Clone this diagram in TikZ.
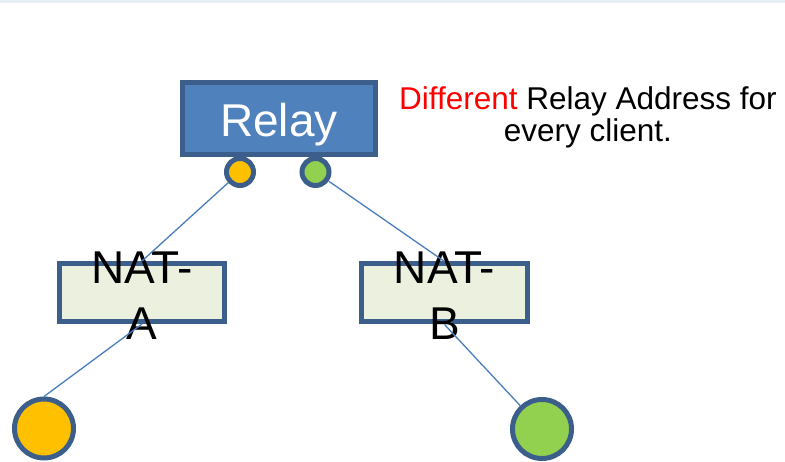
\documentclass[tikz,border=0pt]{standalone}
\usepackage{fontspec}
\setmainfont{Liberation Sans}
\definecolor{topband}{HTML}{E6F0F4}
\definecolor{relayfill}{HTML}{4F81BD}
\definecolor{edgeblue}{HTML}{3B5F8A}
\definecolor{natfill}{HTML}{EBF1DE}
\definecolor{orangec}{HTML}{FFC000}
\definecolor{greenc}{HTML}{92D050}
\definecolor{wireblue}{HTML}{4A7EBB}
\definecolor{diffred}{HTML}{FF0000}
\begin{document}
\begin{tikzpicture}[x=1pt,y=-1pt,
  relaybox/.style={draw=edgeblue,fill=relayfill,line width=5pt,minimum width=193pt,minimum height=72pt,inner sep=0pt,text=white,font=\fontsize{46}{50}\selectfont,text depth=0pt,text height=37pt},
  natbox/.style={draw=edgeblue,fill=natfill,line width=5pt,minimum height=58pt,inner sep=0pt},
  nattext/.style={align=center,inner sep=0pt,font=\fontsize{46}{56}\selectfont},
  port/.style={circle,draw=edgeblue,line width=5pt,minimum size=27pt,inner sep=0pt},
  client/.style={circle,draw=edgeblue,line width=5pt,minimum size=59pt,inner sep=0pt},
  wire/.style={draw=wireblue,line width=1.3pt}]
\useasboundingbox (0,0) rectangle (785,462);
\fill[topband] (0,0) rectangle (785,3);
\node[relaybox] (relay) at (279,118.5) {Relay};
\node[port,fill=orangec] (sa) at (240,172) {};
\node[port,fill=greenc] (sb) at (315.5,172) {};
\node[natbox,minimum width=165pt] (na) at (142,292.5) {};
\node[natbox,minimum width=166pt] (nb) at (444.5,293) {};
\node[client,fill=orangec] (ca) at (44,428.5) {};
\node[client,fill=greenc] (cb) at (542,429) {};
\node[nattext] (ta) at ([yshift=-3pt]na.center) {NAT-\\A};
\node[nattext] (tb) at ([yshift=-3pt]nb.center) {NAT-\\B};
\draw[wire] (sa) -- (na.north);
\draw[wire] (sb) -- (nb.north);
\draw[wire] (na.south) -- (ca.north);
\draw[wire] (nb.south) -- (cb);
\node[align=center,inner sep=0pt,anchor=north,font=\fontsize{31.5}{32}\selectfont] (note) at (588,86) {\textcolor{diffred}{Different} Relay Address for\\every client.};
\end{tikzpicture}
\end{document}
